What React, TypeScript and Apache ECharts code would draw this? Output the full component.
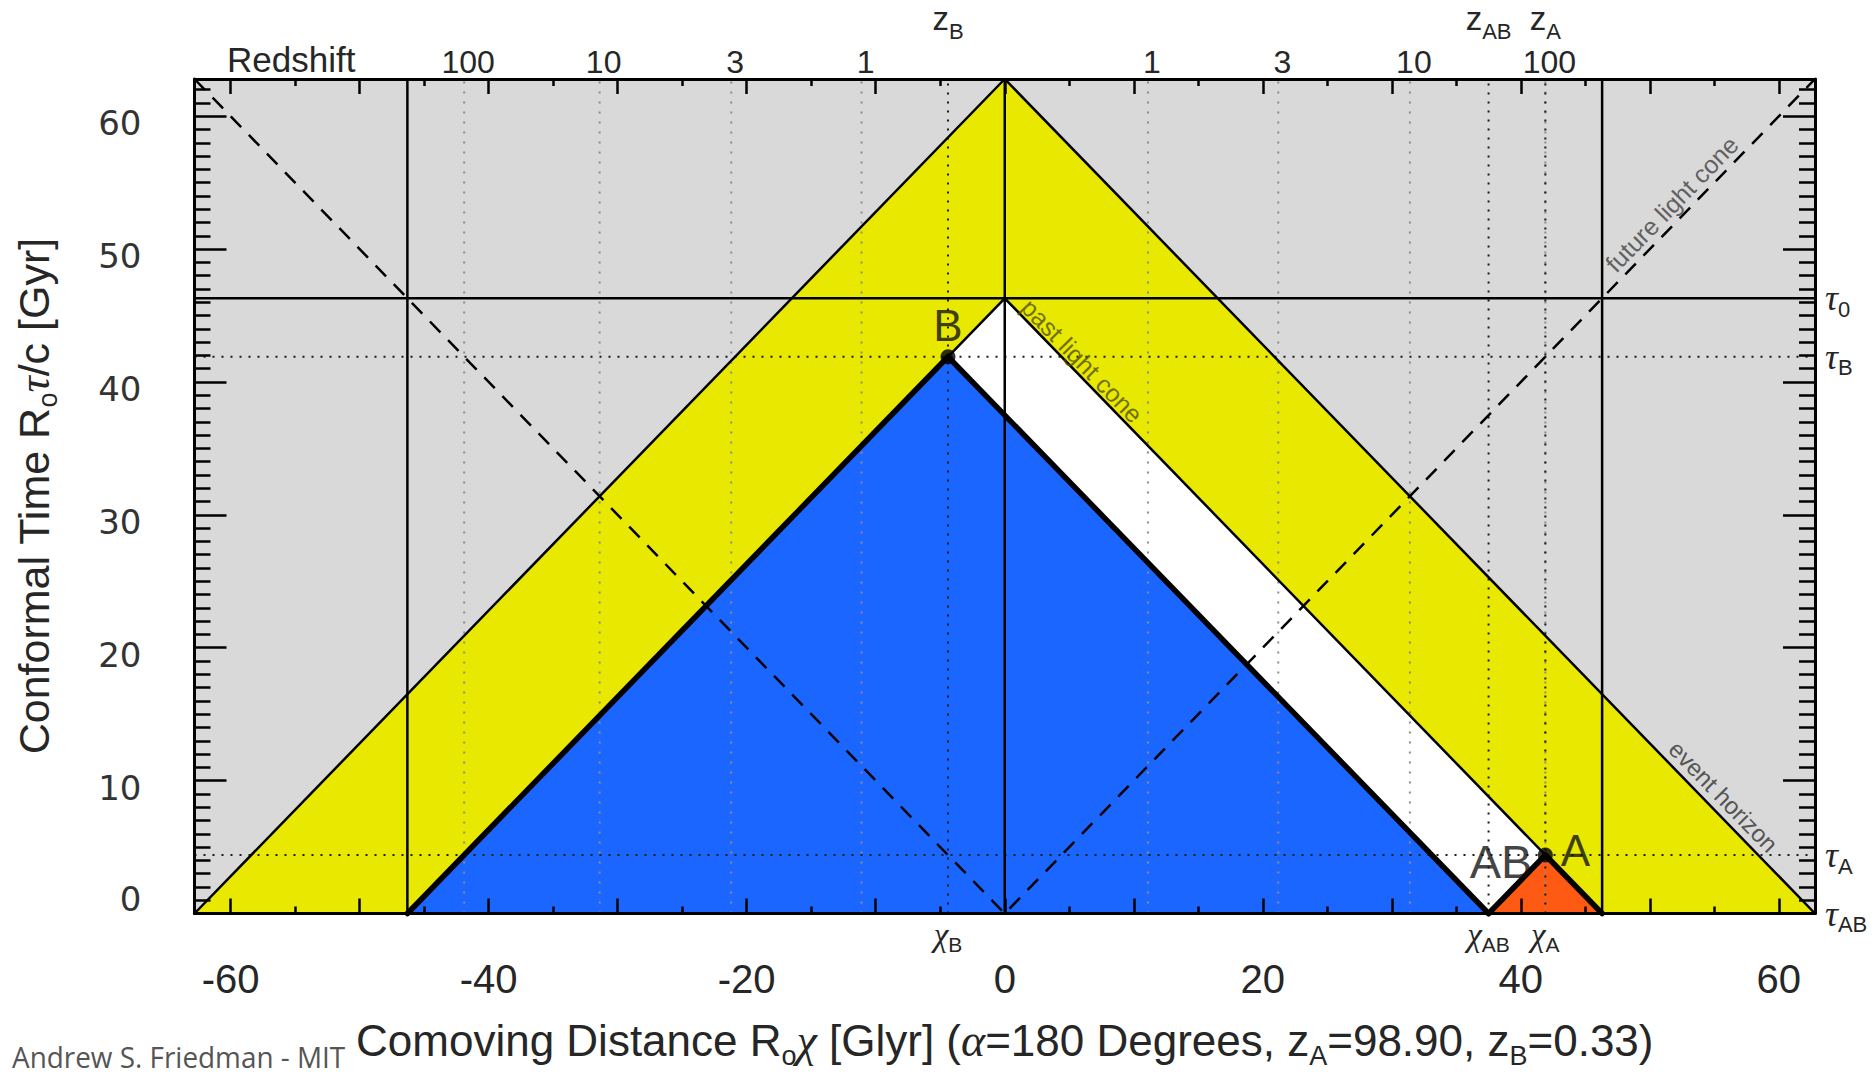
import React, { useEffect, useRef } from 'react';
import * as echarts from 'echarts';

// Conformal-time landmarks (Glyr on the distance axis, Gyr on the time axis)
const TAU_MAX = 62.8; // conformal time at t -> infinity (event horizon apex)
const TAU_0 = 46.3; // conformal time today
const CHI_B = -4.4;
const TAU_B = 41.9;
const CHI_A = 41.9;
const TAU_A = 4.4;
const CHI_AB = 37.5;

// Axis ticks and labels
const X_MAJOR = [-60, -50, -40, -30, -20, -10, 0, 10, 20, 30, 40, 50, 60];
const X_MINOR = [-55, -45, -35, -25, -15, -5, 5, 15, 25, 35, 45, 55];
const X_LABELS = [-60, -40, -20, 0, 20, 40, 60];
const Y_MAJOR = [0, 10, 20, 30, 40, 50, 60];
const Y_MINOR = Array.from({ length: 62 }, (_, i) => i + 1).filter((v) => v % 10 !== 0);

// Redshift scale along the top axis
const REDSHIFT_LABELS = ['100', '10', '3', '1', '1', '3', '10', '100'];
const REDSHIFT_CHI = [-41.9, -31.4, -21.2, -11.1, 11.1, 21.2, 31.4, 41.9];

// Marked comoving distances and conformal times
const CHI_MARKS = [CHI_B, CHI_AB, CHI_A];
const CHI_NAMES = ['B', 'AB', 'A'];
const TAU_MARKS = [TAU_0, TAU_B, TAU_A, 0];
const TAU_NAMES = ['0', 'B', 'A', 'AB'];

// Filled regions
const EVENT_HORIZON_CONE = [[-TAU_MAX, 0], [0, TAU_MAX], [TAU_MAX, 0]];
const PAST_CONE_B = [[-TAU_0, 0], [CHI_B, TAU_B], [CHI_AB, 0]];
const PAST_CONE_A = [[CHI_AB, 0], [CHI_A, TAU_A], [TAU_0, 0]];
const BETWEEN_CONES = [[0, TAU_0], [CHI_B, TAU_B], [CHI_AB, 0], [CHI_A, TAU_A]];

// Line annotations: text, anchor, rotation
const LINE_NOTES = [
  { text: 'past light cone', at: [6.0, 41.6], rotate: -45.8, color: '#4f4e0c', size: 25 },
  { text: 'future light cone', at: [51.7, 53.4], rotate: 45.8, color: '#404040', size: 25 },
  { text: 'event horizon', at: [55.7, 8.8], rotate: -45.8, color: '#303030', size: 24 },
];

const SANS = 'Liberation Sans, Arial, Helvetica, sans-serif';
const SERIF = 'Liberation Serif, Times New Roman, serif';
const TEXT = '#262626';

const GRAY = '#d9d9d9';
const YELLOW = '#e8e800';
const BLUE = '#1a66ff';
const ORANGE = '#ff5a14';

const near = (a: number, b: number) => Math.abs(a - b) < 1e-6;

function regionSeries(verts: number[][], color: string) {
  return {
    type: 'custom',
    coordinateSystem: 'cartesian2d',
    xAxisIndex: 0,
    yAxisIndex: 0,
    silent: true,
    z: 1,
    data: verts,
    renderItem: (params: any, api: any) =>
      params.dataIndex === 0
        ? {
            type: 'polygon',
            shape: { points: verts.map((v) => api.coord(v)) },
            style: { fill: color, stroke: 'none' },
          }
        : null,
  };
}

function lineSeries(points: number[][], style: any, z: number) {
  return {
    type: 'line',
    xAxisIndex: 0,
    yAxisIndex: 0,
    data: points,
    symbol: 'none',
    silent: true,
    clip: false,
    z,
    lineStyle: style,
  };
}

const thin = { color: '#000', width: 2.5, type: 'solid' };
const thick = { color: '#000', width: 5.5, type: 'solid', join: 'round', cap: 'round' };
const dashed = { color: '#000', width: 2.5, type: [15, 11] };
const dottedBlack = { color: '#1a1a1a', width: 2, type: [2, 7] };
const dottedGray = { color: '#8c8c8c', width: 2, type: [2, 8] };

// subscript token: same centre line as the base text, pushed down by drop px
const subStyle = (size: number, drop: number) => ({
  fontSize: size,
  fontFamily: SANS,
  color: TEXT,
  lineHeight: size,
  padding: [drop * 2, 0, 0, 0],
});

function buildOption() {
  const axisCommon = {
    type: 'value',
    min: -TAU_MAX,
    max: TAU_MAX,
    gridIndex: 0,
    z: 10,
    splitLine: { show: false },
  };
  const yCommon = { ...axisCommon, min: 0, max: TAU_MAX };
  const tickStyle = { color: '#000', width: 2.5 };

  const series: any[] = [
    regionSeries(EVENT_HORIZON_CONE, YELLOW),
    regionSeries(BETWEEN_CONES, '#ffffff'),
    regionSeries(PAST_CONE_B, BLUE),
    regionSeries(PAST_CONE_A, ORANGE),
  ];

  // redshift guides
  REDSHIFT_CHI.forEach((c) => series.push(lineSeries([[c, 0], [c, TAU_MAX]], dottedGray, 3)));
  // event coordinates
  [TAU_B, TAU_A].forEach((t) => series.push(lineSeries([[-TAU_MAX, t], [TAU_MAX, t]], dottedBlack, 3)));
  CHI_MARKS.forEach((c) => series.push(lineSeries([[c, 0], [c, TAU_MAX]], dottedBlack, 3)));

  // horizons and cones
  series.push(lineSeries(EVENT_HORIZON_CONE, thin, 4));
  series.push(lineSeries([[-TAU_0, 0], [0, TAU_0], [TAU_0, 0]], thin, 4));
  [-TAU_0, 0, TAU_0].forEach((c) => series.push(lineSeries([[c, 0], [c, TAU_MAX]], thin, 4)));
  series.push(lineSeries([[-TAU_MAX, TAU_0], [TAU_MAX, TAU_0]], thin, 4));
  series.push(lineSeries([[-TAU_MAX, TAU_MAX], [0, 0], [TAU_MAX, TAU_MAX]], dashed, 4));
  series.push(lineSeries(PAST_CONE_B, thick, 5));
  series.push(lineSeries(PAST_CONE_A, thick, 5));

  // events A and B
  const eventLabel = { show: true, fontSize: 44, fontFamily: SANS, color: '#111111' };
  series.push({
    type: 'scatter',
    data: [[CHI_B, TAU_B]],
    symbolSize: 15,
    itemStyle: { color: '#000' },
    silent: true,
    z: 8,
    label: { ...eventLabel, formatter: 'B', position: 'top', distance: 2 },
  });
  series.push({
    type: 'scatter',
    data: [[CHI_A, TAU_A]],
    symbolSize: 15,
    itemStyle: { color: '#000' },
    silent: true,
    z: 8,
    label: { ...eventLabel, formatter: 'A', position: 'right', distance: 8, offset: [0, -5] },
  });
  series.push({
    type: 'scatter',
    data: [[CHI_A, TAU_A]],
    symbolSize: 0,
    silent: true,
    z: 8,
    label: { ...eventLabel, fontSize: 47, formatter: 'AB', position: 'left', distance: 13, offset: [0, 6] },
  });

  // text along lines
  LINE_NOTES.forEach((n) =>
    series.push({
      type: 'scatter',
      data: [n.at],
      symbolSize: 0,
      silent: true,
      z: 7,
      label: {
        show: true,
        formatter: n.text,
        position: 'inside',
        rotate: n.rotate,
        fontSize: n.size,
        fontFamily: SANS,
        color: n.color,
      },
    })
  );

  const nameRich = {
    t: { fontSize: 44, fontFamily: SANS, color: TEXT, lineHeight: 50 },
    sub: subStyle(27, 15),
    gr: { fontSize: 46, fontFamily: SERIF, fontStyle: 'italic', color: TEXT, lineHeight: 50 },
  };

  return {
    animation: false,
    backgroundColor: '#ffffff',
    grid: {
      left: 194.5,
      right: 59,
      top: 79,
      bottom: 162.5,
      show: true,
      backgroundColor: GRAY,
      borderWidth: 0,
      containLabel: false,
      outerBoundsMode: 'none',
    },
    xAxis: [
      {
        ...axisCommon,
        position: 'bottom',
        axisLine: { show: true, onZero: false, lineStyle: { color: '#000', width: 3 } },
        axisTick: { show: true, inside: true, length: 15, customValues: X_MAJOR, lineStyle: tickStyle },
        axisLabel: { show: true, customValues: X_LABELS, margin: 45, fontSize: 40, fontFamily: SANS, color: TEXT },
        name:
          '{t|Comoving Distance R}{sub|o}{gr|χ}{t| [Glyr] (}{gr|α}{t|=180 Degrees, z}{sub|A}{t|=98.90, z}{sub|B}{t|=0.33)}',
        nameLocation: 'middle',
        nameGap: 102,
        nameTextStyle: { fontSize: 44, fontFamily: SANS, color: TEXT, lineHeight: 50, rich: nameRich },
      },
      {
        ...axisCommon,
        position: 'bottom',
        axisLine: { show: false, onZero: false },
        axisTick: { show: true, inside: true, length: 7, customValues: X_MINOR, lineStyle: tickStyle },
        axisLabel: {
          show: true,
          customValues: CHI_MARKS,
          margin: 4,
          formatter: (v: number) => {
            const i = CHI_MARKS.findIndex((c) => near(c, v));
            return i < 0 ? '' : `{chi|χ}{sub|${CHI_NAMES[i]}}`;
          },
          rich: {
            chi: { fontSize: 33, fontFamily: SERIF, fontStyle: 'italic', color: TEXT, lineHeight: 34 },
            sub: subStyle(21, 10),
          },
        },
      },
      {
        ...axisCommon,
        position: 'top',
        axisLine: { show: true, onZero: false, lineStyle: { color: '#000', width: 3 } },
        axisTick: { show: true, inside: true, length: 15, customValues: X_MAJOR, lineStyle: tickStyle },
        axisLabel: {
          show: true,
          customValues: REDSHIFT_CHI,
          margin: 1,
          fontSize: 32,
          fontFamily: SANS,
          color: TEXT,
          padding: [0, 0, 0, 8],
          formatter: (v: number) => {
            const i = REDSHIFT_CHI.findIndex((c) => near(c, v));
            return i < 0 ? '' : REDSHIFT_LABELS[i];
          },
        },
      },
      {
        ...axisCommon,
        position: 'top',
        axisLine: { show: false, onZero: false },
        axisTick: { show: true, inside: true, length: 7, customValues: X_MINOR, lineStyle: tickStyle },
        axisLabel: {
          show: true,
          customValues: CHI_MARKS,
          margin: 44,
          formatter: (v: number) => {
            const i = CHI_MARKS.findIndex((c) => near(c, v));
            return i < 0 ? '' : `{z|z}{sub|${CHI_NAMES[i]}}`;
          },
          rich: {
            z: { fontSize: 33, fontFamily: SANS, color: TEXT, lineHeight: 34 },
            sub: subStyle(22, 13),
          },
        },
      },
    ],
    yAxis: [
      {
        ...yCommon,
        position: 'left',
        axisLine: { show: true, onZero: false, lineStyle: { color: '#000', width: 3 } },
        axisTick: { show: true, inside: true, length: 32, customValues: Y_MAJOR, lineStyle: tickStyle },
        axisLabel: {
          show: true,
          customValues: Y_MAJOR,
          margin: 53,
          formatter: (v: number) => (v === 0 ? `{zero|0}` : `{n|${v}}`),
          rich: {
            n: { fontSize: 34, fontFamily: 'DejaVu Sans, sans-serif', color: '#333', padding: [14, 0, 0, 0] },
            zero: { fontSize: 34, fontFamily: 'DejaVu Sans, sans-serif', color: '#333', padding: [0, 0, 29, 0] },
          },
        },
        name: '{t|Conformal Time R}{sub|o}{gr|τ}{t|/c [Gyr]}',
        nameLocation: 'middle',
        nameGap: 136,
        nameRotate: 90,
        nameTextStyle: {
          fontSize: 44,
          fontFamily: SANS,
          color: TEXT,
          lineHeight: 50,
          rich: {
            t: { fontSize: 43, fontFamily: SANS, color: TEXT, lineHeight: 50 },
            sub: subStyle(27, 14),
            gr: { fontSize: 45, fontFamily: SERIF, fontStyle: 'italic', color: TEXT, lineHeight: 50 },
          },
        },
      },
      {
        ...yCommon,
        position: 'left',
        axisLine: { show: false, onZero: false },
        axisTick: { show: true, inside: true, length: 16, customValues: Y_MINOR, lineStyle: tickStyle },
        axisLabel: { show: false },
      },
      {
        ...yCommon,
        position: 'right',
        axisLine: { show: true, onZero: false, lineStyle: { color: '#000', width: 3 } },
        axisTick: { show: true, inside: true, length: 32, customValues: Y_MAJOR, lineStyle: tickStyle },
        axisLabel: {
          show: true,
          customValues: TAU_MARKS,
          margin: 10,
          formatter: (v: number) => {
            const i = TAU_MARKS.findIndex((t) => near(t, v));
            return i < 0 ? '' : `{tau|τ}{sub|${TAU_NAMES[i]}}`;
          },
          rich: {
            tau: { fontSize: 36, fontFamily: SERIF, fontStyle: 'italic', color: TEXT, lineHeight: 36 },
            sub: subStyle(22, 11),
          },
        },
      },
      {
        ...yCommon,
        position: 'right',
        axisLine: { show: false, onZero: false },
        axisTick: { show: true, inside: true, length: 16, customValues: Y_MINOR, lineStyle: tickStyle },
        axisLabel: { show: false },
      },
    ],
    graphic: [
      {
        type: 'text',
        left: 227,
        top: 42,
        style: { text: 'Redshift', fontSize: 35, fontFamily: SANS, fill: TEXT },
      },
      {
        type: 'text',
        left: 12,
        top: 1041,
        scaleX: 0.93,
        style: { text: 'Andrew S. Friedman - MIT', fontSize: 30, fontFamily: 'Open Sans, Noto Sans, sans-serif', fill: '#555555' },
      },
    ],
    series,
  };
}

export default function App() {
  const ref = useRef<HTMLDivElement>(null);
  useEffect(() => {
    if (!ref.current) return;
    const chart = echarts.init(ref.current, null, { renderer: 'svg' });
    chart.setOption(buildOption() as any);
    return () => chart.dispose();
  }, []);
  return (
    <div
      ref={ref}
      style={{ position: 'absolute', left: 0, top: 0, width: 1874, height: 1076, background: '#ffffff' }}
    />
  );
}
